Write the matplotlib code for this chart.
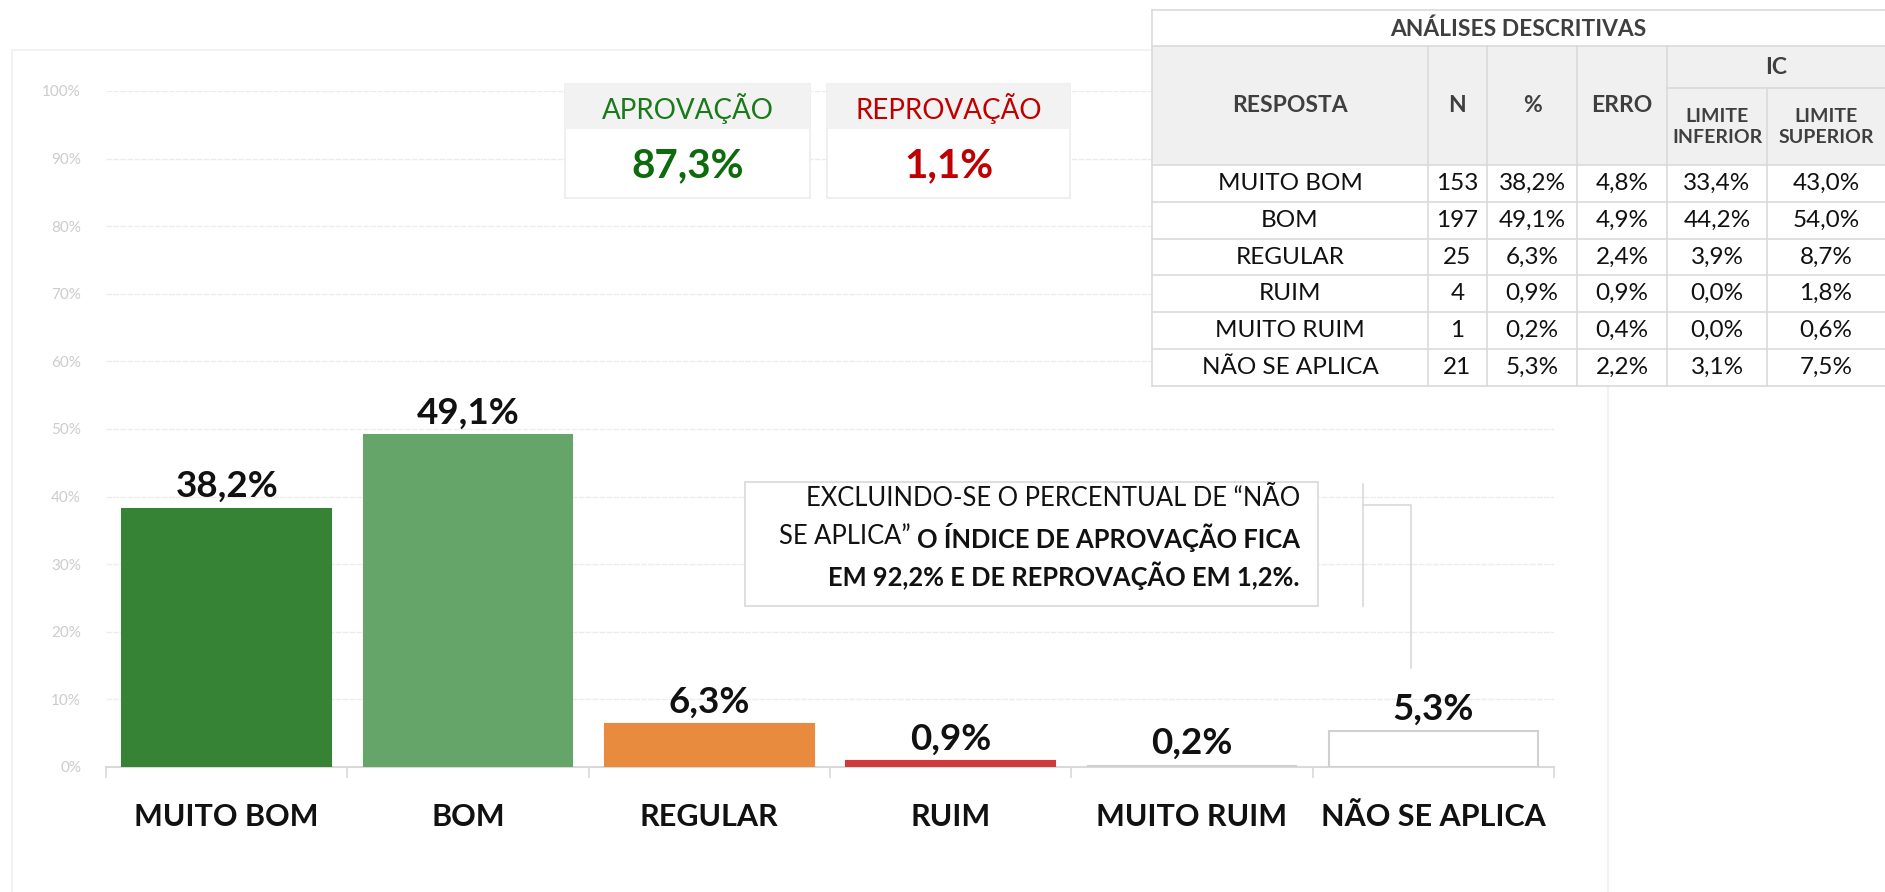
import matplotlib
matplotlib.use("Agg")
import matplotlib.pyplot as plt
from matplotlib.patches import Rectangle
import numpy as np

plt.rcParams['font.family'] = ['Lato', 'DejaVu Sans']

# Data
categorias = ['MUITO BOM', 'BOM', 'REGULAR', 'RUIM', 'MUITO RUIM', 'NÃO SE APLICA']
n_resp = [153, 197, 25, 4, 1, 21]
percentual = [38.2, 49.1, 6.3, 0.9, 0.2, 5.3]
erro = [4.8, 4.9, 2.4, 0.9, 0.4, 2.2]
lim_inf = [33.4, 44.2, 3.9, 0.0, 0.0, 3.1]
lim_sup = [43.0, 54.0, 8.7, 1.8, 0.6, 7.5]
aprovacao = 87.3
reprovacao = 1.1
aprov_sem_na = 92.2
reprov_sem_na = 1.2

cores = ['#368336', '#65a56a', '#e88b3e', '#d03a3a', '#d9d9d9', '#ffffff']
bordas = ['#368336', '#65a56a', '#e88b3e', '#d03a3a', '#cfcfcf', '#d0d0d0']


def fmt(v):
    return f"{v:.1f}".replace('.', ',') + '%'


W, H = 1885, 892
fig = plt.figure(figsize=(W / 100, H / 100), dpi=100)

# background panel
bg = fig.add_axes([0, 0, 1, 1], zorder=0)
bg.set_xlim(0, W)
bg.set_ylim(H, 0)
bg.axis('off')
bg.add_patch(Rectangle((12, 50), 1596, 860, facecolor='white', edgecolor='#f0f0f0', lw=1.2))

# main bar chart
ax = fig.add_axes([106 / W, 1 - 767 / H, (1554 - 106) / W, (767 - 91) / H], zorder=1)
ax.set_facecolor('none')
x = np.arange(len(categorias))
ax.bar(x, np.array(percentual) / 100, width=0.865, color=cores, edgecolor=bordas, linewidth=1.5, zorder=3)
for xi, v in zip(x, percentual):
    ax.annotate(fmt(v), (xi, v / 100), xytext=(0, 4), textcoords='offset points',
                ha='center', va='bottom', fontsize=26.5, fontweight='bold', color='#111111')
ax.set_xlim(-0.5, len(categorias) - 0.5)
ax.set_ylim(0, 1.0)
ax.set_yticks(np.arange(0, 1.01, 0.1))
ax.set_yticklabels([f"{int(round(t * 100))}%" for t in np.arange(0, 1.01, 0.1)])
ax.set_xticks(x)
ax.set_xticklabels(categorias, fontsize=22, fontweight='bold', color='#111111')
ax.set_xticks(np.arange(-0.5, len(categorias), 1), minor=True)
ax.tick_params(axis='x', which='major', length=0, pad=26)
ax.tick_params(axis='x', which='minor', length=8, color='#d9d9d9', width=1.2)
ax.tick_params(axis='y', length=0, pad=18, labelsize=11, labelcolor='#cccccc')
ax.grid(axis='y', color='#ececec', linewidth=1, linestyle=(0, (4, 1)), zorder=0)
for s in ['top', 'right', 'left']:
    ax.spines[s].set_visible(False)
ax.spines['bottom'].set_color('#d9d9d9')
ax.spines['bottom'].set_linewidth(1.5)

# overlay for boxes, table and notes
ov = fig.add_axes([0, 0, 1, 1], zorder=2)
ov.set_xlim(0, W)
ov.set_ylim(H, 0)
ov.axis('off')
ov.patch.set_visible(False)

# KPI boxes
kpis = [('APROVAÇÃO', aprovacao, '#197a19', '#0d6b0d', 565, 810),
        ('REPROVAÇÃO', reprovacao, '#c00000', '#c00000', 827, 1070)]
for titulo, val, c1, c2, x0, x1 in kpis:
    ov.add_patch(Rectangle((x0, 84), x1 - x0, 114, facecolor='white', edgecolor='#ececec', lw=1.2))
    ov.add_patch(Rectangle((x0, 84), x1 - x0, 45, facecolor='#f2f2f2', edgecolor='none'))
    cx = (x0 + x1) / 2
    ov.text(cx, 108, titulo, ha='center', va='center', fontsize=20, color=c1)
    ov.text(cx, 166, fmt(val), ha='center', va='center', fontsize=29, fontweight='bold', color=c2)

# annotation box
ov.add_patch(Rectangle((745, 482), 573, 124, facecolor='white', edgecolor='#d9d9d9', lw=1.2))
fig.canvas.draw()
rend = fig.canvas.get_renderer()
tx = 1300
fs_nota = 18.4
ov.text(tx, 499, 'EXCLUINDO-SE O PERCENTUAL DE “NÃO', ha='right', va='center', fontsize=fs_nota, color='#111111')
b = ov.text(tx, 537, 'O ÍNDICE DE APROVAÇÃO FICA', ha='right', va='center', fontsize=fs_nota,
            fontweight='bold', color='#111111')
bw = b.get_window_extent(rend).width
ov.text(tx - bw, 537, 'SE APLICA” ', ha='right', va='center', fontsize=fs_nota, color='#111111')
ov.text(tx, 576, f'EM {fmt(aprov_sem_na)} E DE REPROVAÇÃO EM {fmt(reprov_sem_na)}.', ha='right',
        va='center', fontsize=fs_nota, fontweight='bold', color='#111111')

# leader lines
ov.plot([1363, 1363], [484, 606], color='#d9d9d9', lw=1.2)
ov.plot([1363, 1411, 1411], [505, 505, 668], color='#d9d9d9', lw=1.2)

# descriptive table
cols = [1152, 1428, 1487, 1577, 1667, 1767, 1885]
top, head_top, head_bot = 10, 46, 165
row_h = 36.8
nrows = len(categorias)
ov.add_patch(Rectangle((cols[0], top), cols[-1] - cols[0], head_bot + nrows * row_h - top,
                       facecolor='white', edgecolor='none'))
ov.add_patch(Rectangle((cols[0], head_top), cols[-1] - cols[0], head_bot - head_top,
                       facecolor='#f0f0f0', edgecolor='none'))
lc = '#dadada'
bottom = head_bot + nrows * row_h
ov.plot([cols[0], cols[-1]], [top, top], color=lc, lw=1.2)
ov.plot([cols[0], cols[-1]], [head_top, head_top], color=lc, lw=1.2)
ov.plot([cols[4], cols[-1]], [88, 88], color=lc, lw=1.2)
ov.plot([cols[0], cols[0]], [top, bottom], color=lc, lw=1.2)
for c in cols[1:-1]:
    ov.plot([c, c], [head_top if c != cols[5] else 88, bottom], color=lc, lw=1.2)
for i in range(nrows + 1):
    y = head_bot + i * row_h
    ov.plot([cols[0], cols[-1]], [y, y], color=lc, lw=1.2)

hc = '#3f3f3f'
ov.text((cols[0] + cols[-1]) / 2, 29, 'ANÁLISES DESCRITIVAS', ha='center', va='center',
        fontsize=16.4, fontweight='bold', color=hc)
mid_head = (head_top + head_bot) / 2
for i, h in enumerate(['RESPOSTA', 'N', '%', 'ERRO']):
    ov.text((cols[i] + cols[i + 1]) / 2, mid_head, h, ha='center', va='center',
            fontsize=16.5, fontweight='bold', color=hc)
ov.text((cols[4] + cols[6]) / 2, 68, 'IC', ha='center', va='center', fontsize=16.5,
        fontweight='bold', color=hc)
ov.text((cols[4] + cols[5]) / 2, 127, 'LIMITE\nINFERIOR', ha='center', va='center', fontsize=14,
        fontweight='bold', color=hc, linespacing=1.3)
ov.text((cols[5] + cols[6]) / 2, 127, 'LIMITE\nSUPERIOR', ha='center', va='center', fontsize=14,
        fontweight='bold', color=hc, linespacing=1.3)

for r in range(nrows):
    y = head_bot + (r + 0.5) * row_h
    vals = [categorias[r], str(n_resp[r]), fmt(percentual[r]), fmt(erro[r]),
            fmt(lim_inf[r]), fmt(lim_sup[r])]
    for i, v in enumerate(vals):
        ov.text((cols[i] + cols[i + 1]) / 2, y, v, ha='center', va='center',
                fontsize=17.5, color='#111111')

fig.savefig('out.png', dpi=100)
